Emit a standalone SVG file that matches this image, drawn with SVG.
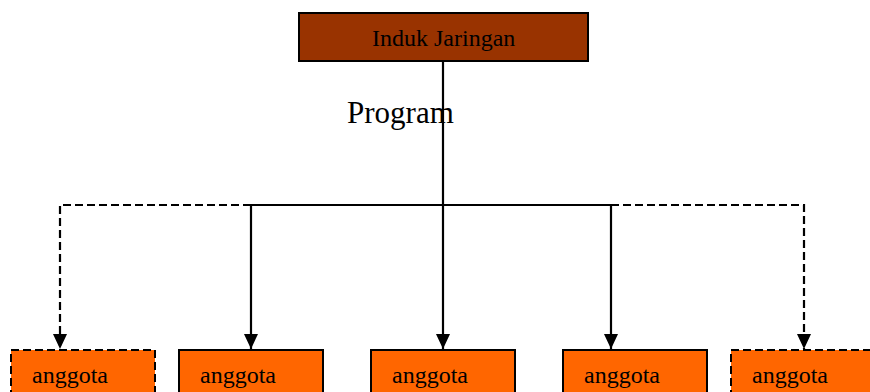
<svg xmlns="http://www.w3.org/2000/svg" width="870" height="392" viewBox="0 0 870 392">
<style>
.t{font-family:"Liberation Serif","Times New Roman",serif;fill:#000}
.m{font-size:24px}
.root{fill:#993300;stroke:#000;stroke-width:2}
.box{fill:#FF6600;stroke:#000;stroke-width:2}
.dash{stroke-dasharray:8 4}
.c{fill:none;stroke:#000;stroke-width:2.2}
</style>
<defs>
<marker id="ah" markerUnits="userSpaceOnUse" markerWidth="16" markerHeight="16" refX="15" refY="8" orient="auto" viewBox="0 0 16 16">
<path d="M0,1 L15,8 L0,15 Z" fill="#000"/>
</marker>
</defs>
<rect width="870" height="392" fill="#fff"/>
<g id="connectors">
<path class="c" d="M443,61 V349" marker-end="url(#ah)"/>
<path class="c" d="M443,205 H251 V349" marker-end="url(#ah)"/>
<path class="c" d="M443,205 H611 V349" marker-end="url(#ah)"/>
<path class="c dash" d="M251,205 H60 V349" marker-end="url(#ah)"/>
<path class="c dash" d="M611,205 H804 V349" marker-end="url(#ah)"/>
</g>
<g id="induk">
<rect class="root" x="299" y="13" width="289" height="48"/>
<text class="t m" x="372" y="46">Induk Jaringan</text>
</g>
<g id="program">
<text class="t" x="347" y="123" font-size="31">Program</text>
</g>
<g id="a1">
<rect class="box dash" x="11" y="350" width="144" height="60"/>
<text class="t m" x="32" y="383">anggota</text>
</g>
<g id="a2">
<rect class="box" x="179" y="350" width="144" height="60"/>
<text class="t m" x="200" y="383">anggota</text>
</g>
<g id="a3">
<rect class="box" x="371" y="350" width="144" height="60"/>
<text class="t m" x="392" y="383">anggota</text>
</g>
<g id="a4">
<rect class="box" x="563" y="350" width="144" height="60"/>
<text class="t m" x="584" y="383">anggota</text>
</g>
<g id="a5">
<rect class="box dash" x="731" y="350" width="144" height="60"/>
<text class="t m" x="752" y="383">anggota</text>
</g>
</svg>
